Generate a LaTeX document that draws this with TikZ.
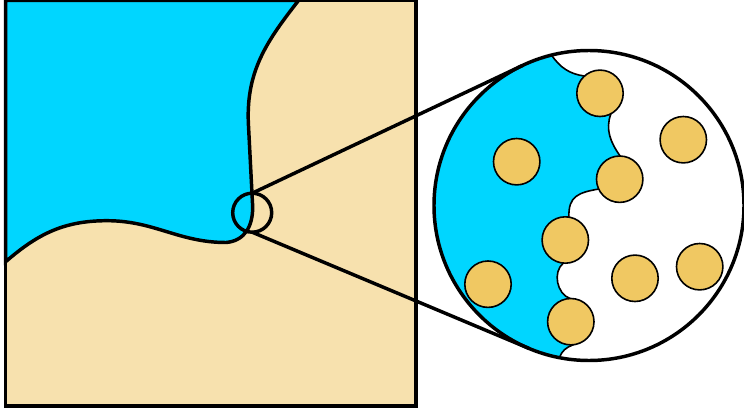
\documentclass[tikz,border=0pt]{standalone}
\usetikzlibrary{calc}
\definecolor{seablue}{RGB}{0,214,255}
\definecolor{sand}{RGB}{247,225,174}
\definecolor{grainc}{RGB}{240,200,98}

\begin{document}
\begin{tikzpicture}[x=0.75pt,y=0.75pt,
    outline/.style={line width=2.6pt},
    fineline/.style={line width=1.2pt},
    grain/.style={fill=grainc,draw=black,fineline}]
  \useasboundingbox (0,0) rectangle (744,412);

  % sample: sand with the water front
  \fill[sand] (5.7,6) rectangle (416,411.5);
  \filldraw[seablue,draw=black,outline] (5.7,411.5) -- (298.5,411.5)
    to[out=-128,in=92] (248.3,290)
    to[out=-87,in=93] (252.7,205)
    to[out=-90,in=5,looseness=1.1] (226,169.5)
    to[out=180,in=0] (107,191.3)
    to[out=180,in=41] (5.7,150.3) -- cycle;

  % loupe + lens
  \node[circle,draw,outline,inner sep=0pt,outer sep=0pt,minimum size=29.25pt] (loupe) at (252.2,199.3) {};
  \coordinate (lensc) at (589,206.5);

  % grain centres
  \foreach \gx/\gy [count=\i] in {600/318.7, 683.3/272.3, 516.7/250.3, 619.7/232.8,
      565.3/172, 488/127.8, 635/133.7, 699.7/145.3, 570.8/90.3}
    \coordinate (p\i) at (\gx,\gy);

  % water inside the lens, menisci between grains
  \filldraw[seablue,draw=black,fineline]
    (lensc) ++(104:155) coordinate (wtop)
    arc[start angle=104,end angle=259,radius=155]
    to[out=70,in=200] ($(p9)+(276:23.2)$) -- (p9)
    -- ($(p9)+(92:23.2)$) to[out=160,in=-140] ($(p5)+(265:23.2)$) -- (p5)
    -- ($(p5)+(81:23.2)$) to[out=92,in=190,looseness=1.3] ($(p4)+(205:23.2)$) -- (p4)
    -- ($(p4)+(89:23.2)$) to[out=125,in=-110] ($(p1)+(-62:23.2)$) -- (p1)
    -- ($(p1)+(132:23.2)$) to[out=172,in=-55] (wtop) -- cycle;

  \foreach \i in {1,...,9}
    \filldraw[grain] (p\i) circle (23.2);

  \node[circle,draw,outline,inner sep=0pt,outer sep=0pt,minimum size=232.5pt] (lens) at (lensc) {};

  \draw[outline] (loupe.north) -- (tangent cs:node=lens,point={(loupe.north)},solution=2);
  \draw[outline] (loupe.south) -- (tangent cs:node=lens,point={(loupe.south)},solution=1);

  \draw[outline] (5.7,6) rectangle (416,411.5);
\end{tikzpicture}
\end{document}
